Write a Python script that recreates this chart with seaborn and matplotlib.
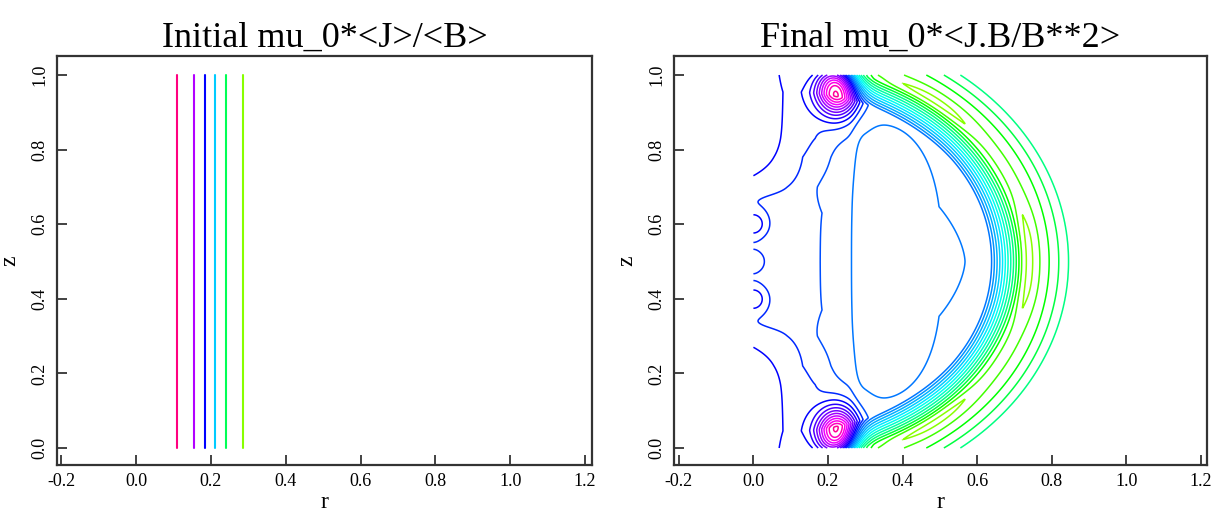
import numpy as np
import pandas as pd
import matplotlib
matplotlib.use("Agg")
import matplotlib.pyplot as plt
import seaborn as sns
from matplotlib.colors import hsv_to_rgb

# ---------------- data ----------------
# Initial state: mu_0*<J>/<B> contours are straight vertical lines in (r, z)
initial_r = [0.108, 0.156, 0.185, 0.211, 0.241, 0.287]
initial_hue_deg = [330, 282, 240, 192, 140, 88]
initial_z_span = [0.0, 1.0]

# Final state: contour levels of mu_0*<J.B/B**2> (level index) and their hues
final_levels = list(range(0, 25))
hue_anchor_level = [0, 1, 4, 8, 12, 15, 18, 24]
hue_anchor_deg = [88, 105, 150, 185, 212, 240, 268, 325]

# Field description of the final state
plateau = 12.5                       # value inside the current channel
shell_center = (0.10, 0.50)          # centre of the outer current shell
shell_r_scale = 1.18                 # radial stretch of the shell
shell_inner, shell_outer = 0.455, 0.635
shell_t = [0.0, 0.391, 0.48, 0.617, 0.735, 0.857, 0.98, 1.06, 3.0]
shell_v = [12.5, 1.0, -0.5, 1.0, 2.0, 3.0, 4.0, 4.5, 4.5]
shell_mask_r, shell_mask_w = 0.20, 0.03
trough_lift, trough_theta, trough_theta_w = 1.0, 28.0, 16.0
edge_lift, edge_w = 0.9, 0.03

axis_ramp_dz = [0.0, 0.13, 0.20, 0.28, 0.33, 0.50]
axis_ramp_r = [0.179, 0.179, 0.140, 0.137, 0.174, 0.190]
axis_ramp_amp = 1.0

corner_amp, corner_rs, corner_z0, corner_w = 2.4, 0.17, 0.212, 0.035
corner_cut_r, corner_cut_w = 0.24, 0.03

axis_bump_dz = [0.10, 0.0]
axis_bump_amp = [2.3, 0.8]
axis_bump_sigma = [0.024, 0.03]

peak_r, peak_dz = 0.226, 0.472
peak_amp, peak_sr, peak_sz = 13.0, 0.038, 0.052

# low-current core: a tall lobe and a wider mid-plane lobe
dip_center = (0.30, 0.50)
dip_amp = -1.0
dip_a_left = [0.04, 0.04]
dip_a_right = [0.22, 0.30]
dip_b = [0.40, 0.30]
dip_p = [2.6, 1.6]

# ---------------- style ----------------
sns.set_theme(style="white")
plt.rcParams["font.family"] = ["Liberation Serif", "DejaVu Serif"]
plt.rcParams["axes.unicode_minus"] = False
plt.rcParams["text.color"] = "black"
plt.rcParams["axes.labelcolor"] = "black"
plt.rcParams["xtick.color"] = "black"
plt.rcParams["ytick.color"] = "black"

W, H = 1215, 514
fig = plt.figure(figsize=(W / 100, H / 100), dpi=100)
ax1 = fig.add_axes([57 / W, 1 - 465 / H, 535 / W, 409 / H])
ax2 = fig.add_axes([674 / W, 1 - 465 / H, 533 / W, 409 / H])


def hue_rgb(h):
    return tuple(hsv_to_rgb((h % 360 / 360.0, 1.0, 1.0)))


# ---------------- left: initial profile ----------------
df = pd.DataFrame({
    "r": np.repeat(initial_r, 2),
    "z": np.tile(initial_z_span, len(initial_r)),
    "line": np.repeat(np.arange(len(initial_r)), 2),
})
sns.lineplot(data=df, x="r", y="z", hue="line", sort=False, estimator=None,
             palette=[hue_rgb(h) for h in initial_hue_deg], legend=False,
             linewidth=1.5, ax=ax1)

# ---------------- right: final equilibrium ----------------
r = np.linspace(0.0, 0.95, 476)
z = np.linspace(0.0, 1.0, 501)
R, Z = np.meshgrid(r, z)
DZ = np.abs(Z - 0.5)

dr_n = (R - shell_center[0]) / shell_r_scale
rho = np.hypot(dr_n, Z - shell_center[1])
t = (rho - shell_inner) / (shell_outer - shell_inner)
g = np.interp(t, shell_t, shell_v)
theta = np.degrees(np.arctan2(DZ, dr_n))
near_trough = np.exp(-((t - shell_t[2]) / 0.1) ** 2)
lift = trough_lift * np.exp(-((theta - trough_theta) / trough_theta_w) ** 4) * near_trough
lift += edge_lift * np.exp(-((0.5 - DZ) / edge_w) ** 2) * near_trough
mask = 1.0 / (1.0 + np.exp(-(R - shell_mask_r) / shell_mask_w))
F = plateau + mask * (g + lift - plateau)

r_half = np.interp(DZ, axis_ramp_dz, axis_ramp_r)
F += axis_ramp_amp / (1.0 + np.exp((R - r_half) / 0.02))
F += (corner_amp * np.exp(-R / corner_rs)
      / (1.0 + np.exp((R - corner_cut_r) / corner_cut_w))
      / (1.0 + np.exp(-(DZ - corner_z0) / corner_w)))
for bz, ba, bs in zip(axis_bump_dz, axis_bump_amp, axis_bump_sigma):
    F += ba * np.exp(-(R ** 2 + (DZ - bz) ** 2) / (2 * bs ** 2))
F += peak_amp * np.exp(-0.5 * ((R - peak_r) / peak_sr) ** 2 - 0.5 * ((DZ - peak_dz) / peak_sz) ** 2)

ddr = R - dip_center[0]
lobes = []
for al, ar, b, p in zip(dip_a_left, dip_a_right, dip_b, dip_p):
    a = np.where(ddr < 0, al, ar)
    E = (np.abs(ddr) / a) ** p + (DZ / b) ** p
    lobes.append(np.exp(-E ** 2))
F += dip_amp * np.maximum(*lobes)

level_hues = np.interp(final_levels, hue_anchor_level, hue_anchor_deg)
ax2.contour(R, Z, F, levels=final_levels,
            colors=[hue_rgb(h) for h in level_hues], linewidths=1.1)

# ---------------- axes cosmetics ----------------
xt = np.round(np.arange(-0.2, 1.21, 0.2), 1)
yt = np.round(np.arange(0.0, 1.01, 0.2), 1)
for ax, title, xl in ((ax1, "Initial mu_0*<J>/<B>", (-0.2115, 1.2187)),
                      (ax2, "Final mu_0*<J.B/B**2>", (-0.213, 1.2166))):
    ax.set_xlim(*xl)
    ax.set_ylim(-0.0456, 1.051)
    ax.set_xticks(xt)
    ax.set_xticklabels([f"{v:.1f}" for v in xt])
    ax.set_yticks(yt)
    ax.set_yticklabels([f"{v:.1f}" for v in yt])
    ax.tick_params(direction="in", length=7, width=1.2, color="#222222",
                   labelsize=13, pad=6, bottom=True, left=True, top=False, right=False)
    ax.tick_params(axis="y", labelrotation=90)
    for lab in ax.get_yticklabels():
        lab.set_va("center")
    for sp in ax.spines.values():
        sp.set_linewidth(1.6)
        sp.set_color("#333333")
    ax.set_xlabel("r", fontsize=17, labelpad=1)
    ax.set_ylabel("z", fontsize=17, labelpad=8)
    ax.set_title(title, fontsize=26, pad=7)
    ax.grid(False)

fig.savefig("out.png", dpi=100, facecolor="white")
